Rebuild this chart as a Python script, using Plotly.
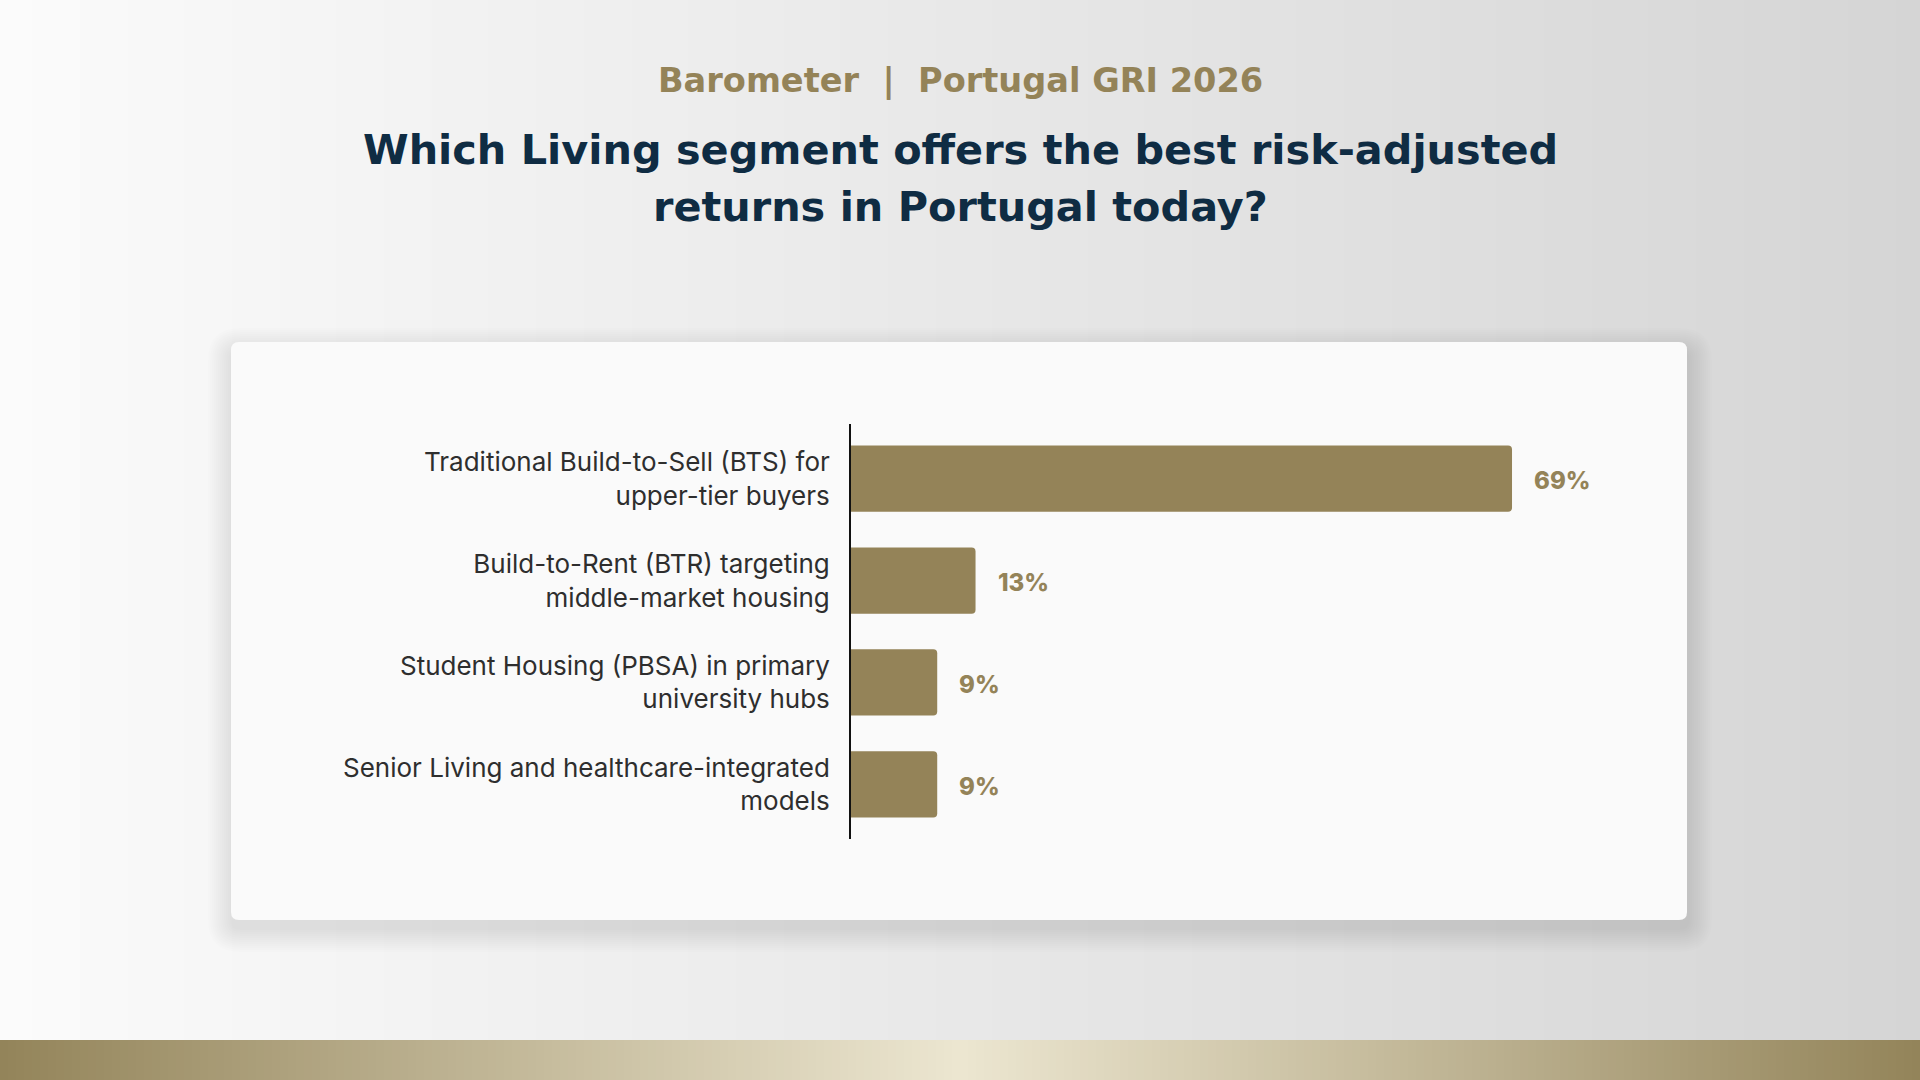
import plotly.graph_objects as go

# ---------------- data ----------------
categories = [
    "Traditional Build-to-Sell (BTS) for<br>upper-tier buyers",
    "Build-to-Rent (BTR) targeting<br>middle-market housing",
    "Student Housing (PBSA) in primary<br>university hubs",
    "Senior Living and healthcare-integrated<br>models",
]
values = [69, 13, 9, 9]
kicker = "Barometer  |  Portugal GRI 2026"
title_line1 = "Which Living segment offers the best risk-adjusted"
title_line2 = "returns in Portugal today?"

# ---------------- style ----------------
W, H = 1920, 1080
GOLD = "#948358"
NAVY = "#0f2c43"
LABEL = "#2e2e2e"
FONT = "Inter"
TFONT = "DejaVu Sans"


def px(x):
    return x / W


def py(y):
    return 1 - y / H


def hexmix(c1, c2, t):
    a = [int(c1[i:i + 2], 16) for i in (1, 3, 5)]
    b = [int(c2[i:i + 2], 16) for i in (1, 3, 5)]
    return "#%02x%02x%02x" % tuple(round(a[k] + (b[k] - a[k]) * t) for k in range(3))


def rrect(x0, y0, x1, y1, r):
    rx, ry = r / W, r / H
    X0, X1 = px(x0), px(x1)
    Y0, Y1 = py(y0), py(y1)  # Y0 top, Y1 bottom
    return (f"M{X0+rx},{Y0} L{X1-rx},{Y0} Q{X1},{Y0} {X1},{Y0-ry} "
            f"L{X1},{Y1+ry} Q{X1},{Y1} {X1-rx},{Y1} L{X0+rx},{Y1} "
            f"Q{X0},{Y1} {X0},{Y1+ry} L{X0},{Y0-ry} Q{X0},{Y0} {X0+rx},{Y0} Z")


shapes = []
# background gradient (white left -> light grey right)
step = 8
for x in range(0, W, step):
    t = x / W
    shapes.append(dict(type="rect", xref="paper", yref="paper", layer="below",
                       x0=px(x), x1=px(x + step + 1), y0=py(1040), y1=1,
                       fillcolor=hexmix("#fbfbfb", "#d5d5d5", t), line_width=0))
# bottom gold band
for x in range(0, W, step):
    t = (x + step / 2) / W
    if t < 0.5:
        c = hexmix("#93845a", "#ece6d0", t / 0.5)
    else:
        c = hexmix("#ece6d0", "#93845a", (t - 0.5) / 0.5)
    shapes.append(dict(type="rect", xref="paper", yref="paper", layer="below",
                       x0=px(x), x1=px(x + step + 1), y0=0, y1=py(1040),
                       fillcolor=c, line_width=0))
# card shadow (soft, mostly below)
CX0, CY0, CX1, CY1 = 231, 342, 1687, 920
for i in range(12, 0, -1):
    e = i * 2.0
    shapes.append(dict(type="path", xref="paper", yref="paper", layer="below",
                       path=rrect(CX0 - e + 1, CY0 - e + 10, CX1 + e + 1, CY1 + e + 8, 8 + e),
                       fillcolor="rgba(0,0,0,0.009)", line_width=0))
# card
shapes.append(dict(type="path", xref="paper", yref="paper", layer="below",
                   path=rrect(CX0, CY0, CX1, CY1, 8),
                   fillcolor="#fafafa", line_width=0))

fig = go.Figure()
fig.add_trace(go.Bar(
    x=values, y=categories, orientation="h",
    marker=dict(color=GOLD, line_width=0),
    width=0.65, hoverinfo="skip",
))

annotations = []
for c, v in zip(categories, values):
    annotations.append(dict(
        x=v, y=c, xref="x", yref="y", text=f"{v}%", showarrow=False,
        xanchor="left", yanchor="middle", xshift=20, yshift=-2,
        font=dict(family=FONT, size=24, color=GOLD, weight=800),
    ))
annotations.append(dict(
    x=0.5, y=py(81), xref="paper", yref="paper", text=kicker, showarrow=False,
    xanchor="center", yanchor="middle",
    font=dict(family=TFONT, size=33.6, color=GOLD, weight=700),
))
annotations.append(dict(
    x=0.5, y=py(150), xref="paper", yref="paper", text=title_line1, showarrow=False,
    xanchor="center", yanchor="middle",
    font=dict(family=TFONT, size=41.4, color=NAVY, weight=700),
))
annotations.append(dict(
    x=0.5, y=py(207), xref="paper", yref="paper", text=title_line2, showarrow=False,
    xanchor="center", yanchor="middle",
    font=dict(family=TFONT, size=41.4, color=NAVY, weight=700),
))

PX_PER_PCT = 9.58
X_AXIS = 851
XMAX = 80
fig.update_layout(
    width=W, height=H,
    margin=dict(l=0, r=0, t=0, b=0),
    paper_bgcolor="#f0f0f0",
    plot_bgcolor="rgba(0,0,0,0)",
    showlegend=False,
    barcornerradius=4,
    shapes=shapes,
    annotations=annotations,
    xaxis=dict(domain=[px(X_AXIS), px(X_AXIS + XMAX * PX_PER_PCT)], range=[0, XMAX],
               visible=False, showgrid=False, zeroline=False, fixedrange=True),
    yaxis=dict(domain=[py(839), py(424)], range=[3.535, -0.535],
               type="category", categoryorder="array", categoryarray=categories,
               showline=True, linecolor="#111111", linewidth=2,
               showgrid=False, zeroline=False, ticks="",
               ticklabelstandoff=14,
               tickfont=dict(family=FONT, size=26, color=LABEL),
               fixedrange=True),
)

fig.write_html("out.html", config={"displayModeBar": False},
               post_script="document.body.style.margin='0';document.body.style.overflow='hidden';")
